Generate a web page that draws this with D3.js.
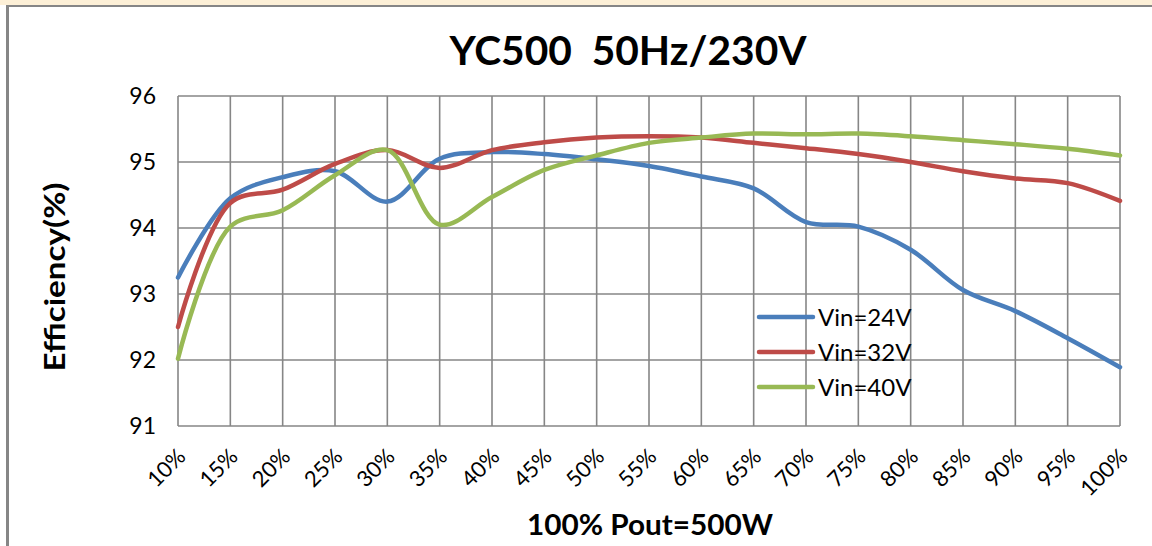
<!DOCTYPE html>
<html>
<head>
<meta charset="utf-8">
<script src="https://cdn.jsdelivr.net/npm/d3@7"></script>
<style>
  body { margin: 0; background: #fff; }
  svg { display: block; font-family: Lato, "Open Sans", sans-serif; }
</style>
</head>
<body>
<script>
// chart data
const loads = ["10%", "15%", "20%", "25%", "30%", "35%", "40%", "45%", "50%", "55%",
               "60%", "65%", "70%", "75%", "80%", "85%", "90%", "95%", "100%"];
const vin24 = [93.25, 94.45, 94.77, 94.86, 94.40, 95.05, 95.15, 95.12, 95.04, 94.94,
               94.78, 94.60, 94.09, 94.02, 93.67, 93.06, 92.74, 92.33, 91.89];
const vin32 = [92.50, 94.38, 94.58, 94.97, 95.18, 94.91, 95.18, 95.30, 95.37, 95.39,
               95.37, 95.29, 95.21, 95.12, 95.00, 94.86, 94.75, 94.68, 94.41];
const vin40 = [92.02, 94.02, 94.27, 94.80, 95.18, 94.05, 94.47, 94.88, 95.10, 95.29,
               95.37, 95.43, 95.42, 95.43, 95.39, 95.33, 95.27, 95.20, 95.10];
const yTicks = [91, 92, 93, 94, 95, 96];
const seriesNames = ["Vin=24V", "Vin=32V", "Vin=40V"];
const seriesColors = ["#4a7ebb", "#be4b48", "#98b954"];

const width = 1152, height = 546;
const gridColor = "#868686";

const svg = d3.select("body").append("svg")
  .attr("width", width)
  .attr("height", height);

// strip + frame at the top/left edge of the screenshot
svg.append("rect").attr("x", 0).attr("y", 0).attr("width", width).attr("height", 5).attr("fill", "#fdf0d7");
svg.append("line").attr("x1", 6).attr("x2", width).attr("y1", 6).attr("y2", 6)
  .attr("stroke", gridColor).attr("stroke-width", 2);
svg.append("line").attr("x1", 7.5).attr("x2", 7.5).attr("y1", 5).attr("y2", height)
  .attr("stroke", gridColor).attr("stroke-width", 3);

const x = d3.scalePoint().domain(loads).range([178, 1120]);
const y = d3.scaleLinear().domain([91, 96]).range([426, 96]);

// grid
const grid = svg.append("g").attr("stroke", gridColor).attr("stroke-width", 1.6);
grid.selectAll(".hg").data(yTicks).enter().append("line")
  .attr("x1", 178).attr("x2", 1120)
  .attr("y1", d => y(d)).attr("y2", d => y(d));
grid.selectAll(".vg").data(loads).enter().append("line")
  .attr("x1", d => x(d)).attr("x2", d => x(d))
  .attr("y1", y(96)).attr("y2", y(91));

// y axis labels
svg.append("g").selectAll("text").data(yTicks).enter().append("text")
  .attr("x", 156).attr("y", d => y(d)).attr("dy", "0.36em")
  .attr("text-anchor", "end").attr("font-size", 23).attr("fill", "#000")
  .text(d => d);

// x axis labels, rotated
svg.append("g").selectAll("text").data(loads).enter().append("text")
  .attr("text-anchor", "end").attr("font-size", 22).attr("fill", "#000")
  .attr("transform", d => `translate(${x(d) + 9},${458}) rotate(-45)`)
  .text(d => d);

// titles
svg.append("text").attr("x", 628).attr("y", 65).attr("text-anchor", "middle")
  .attr("font-size", 41).attr("font-weight", "bold").attr("fill", "#000")
  .style("white-space", "pre")
  .attr("textLength", 357).attr("lengthAdjust", "spacingAndGlyphs")
  .text("YC500  50Hz/230V");

svg.append("text").attr("x", 650).attr("y", 535).attr("text-anchor", "middle")
  .attr("font-size", 28).attr("font-weight", "bold").attr("fill", "#000")
  .attr("textLength", 246).attr("lengthAdjust", "spacingAndGlyphs")
  .text("100% Pout=500W");

svg.append("text").attr("transform", "translate(65,277) rotate(-90)").attr("text-anchor", "middle")
  .attr("font-size", 29).attr("font-weight", "bold").attr("fill", "#000")
  .attr("textLength", 189).attr("lengthAdjust", "spacingAndGlyphs")
  .text("Efficiency(%)");

// lines
const line = d3.line()
  .x((d, i) => x(loads[i]))
  .y(d => y(d))
  .curve(d3.curveCatmullRom.alpha(0.5));

[vin24, vin32, vin40].forEach((vals, k) => {
  svg.append("path")
    .attr("d", line(vals))
    .attr("fill", "none")
    .attr("stroke", seriesColors[k])
    .attr("stroke-width", 4.5)
    .attr("stroke-linecap", "round");
});

// legend
const legend = svg.append("g");
seriesNames.forEach((name, k) => {
  const ly = 317 + k * 35;
  legend.append("line").attr("x1", 759).attr("x2", 813).attr("y1", ly).attr("y2", ly)
    .attr("stroke", seriesColors[k]).attr("stroke-width", 4.5).attr("stroke-linecap", "round");
  legend.append("text").attr("x", 818).attr("y", ly).attr("dy", "0.36em")
    .attr("font-size", 24).attr("fill", "#000").text(name);
});
</script>
</body>
</html>
